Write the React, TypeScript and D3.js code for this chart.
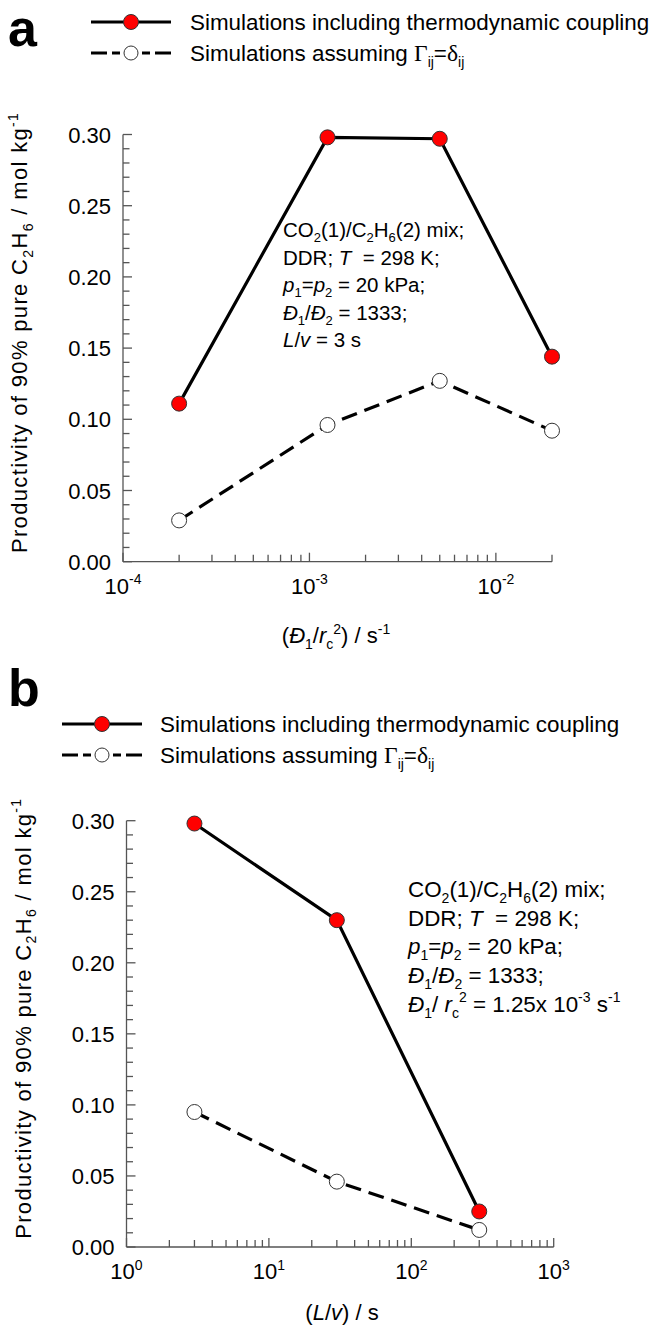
import React from "react";
import * as d3 from "d3";

// panel a: productivity vs D1/rc^2
const diffRatesA = [2e-4, 1.25e-3, 5e-3, 2e-2];
const coupledA = [0.111, 0.298, 0.297, 0.144];
const idealA = [0.029, 0.096, 0.127, 0.092];

// panel b: productivity vs L/v
const residenceB = [3, 30, 300];
const coupledB = [0.298, 0.23, 0.025];
const idealB = [0.095, 0.046, 0.012];

const yTicks = [0, 0.05, 0.1, 0.15, 0.2, 0.25, 0.3];
const xMajorA = [-4, -3, -2];
const xMajorB = [0, 1, 2, 3];

const FONT = "Arial, 'Liberation Sans', sans-serif";
const SERIF = "'Times New Roman', 'Liberation Serif', serif";
const AXIS = "#555";

// rich text: segments of [text, kind]; kind = "" | "i" | "sub" | "sup" | "g" (greek serif)
type Seg = [string, string?];
const Rich = ({ segs, size }: { segs: Seg[]; size: number }) => {
  let shift = 0;
  const small = Math.round(size * 0.63);
  return (
    <>
      {segs.map(([t, k = ""], i) => {
        const target = k.includes("sub") ? size * 0.26 : k.includes("sup") ? -size * 0.42 : 0;
        const dy = target - shift;
        shift = target;
        return (
          <tspan
            key={i}
            dy={dy || undefined}
            fontSize={k.includes("sub") || k.includes("sup") ? small : k === "g" ? size * 1.05 : undefined}
            fontStyle={k.startsWith("i") ? "italic" : undefined}
            fontFamily={k === "g" ? SERIF : undefined}
          >
            {t}
          </tspan>
        );
      })}
    </>
  );
};

const Legend = ({ x, y, labelX }) => (
  <g fontFamily={FONT} fontSize={22.4}>
    <line x1={x} x2={x + 80} y1={y} y2={y} stroke="#000" strokeWidth={3} />
    <circle cx={x + 40} cy={y} r={7.5} fill="#ff0000" stroke="#333" strokeWidth={1} />
    <text x={labelX} y={y + 8}>Simulations including thermodynamic coupling</text>
    {[
      [0, 16],
      [21, 29],
      [51, 59],
      [64, 80],
    ].map(([a, b], i) => (
      <line key={i} x1={x + a} x2={x + b} y1={y + 31} y2={y + 31} stroke="#000" strokeWidth={3} />
    ))}
    <circle cx={x + 40} cy={y + 31} r={7} fill="#fff" stroke="#333" strokeWidth={1} />
    <text x={labelX} y={y + 39}>
      <Rich
        size={22.4}
        segs={[["Simulations assuming "], ["Γ", "g"], ["ij", "sub"], ["="], ["δ", "g"], ["ij", "sub"]]}
      />
    </text>
  </g>
);

const Panel = ({ xs, coupled, ideal, domain, majors, left, top, bottom, right, xTitle, note, noteX, noteY, noteSize, noteGap }) => {
  const x = d3.scaleLog().domain(domain).range([left, right]);
  const y = d3.scaleLinear().domain([0, 0.3]).range([bottom, top]);
  const line = d3
    .line<number>()
    .x((d, i) => x(xs[i]))
    .y((d) => y(d));

  const minors = [];
  for (let e = majors[0]; e < majors[majors.length - 1] + 1; e++) {
    for (let m = 2; m <= 9; m++) {
      const v = m * Math.pow(10, e);
      if (v <= domain[1] * 1.0001 && v >= domain[0]) minors.push(v);
    }
  }
  const yMinor = d3.range(0, 31).map((d) => d / 100).filter((d) => Math.round(d * 100) % 5 !== 0);

  return (
    <g fontFamily={FONT}>
      {/* axes */}
      <line x1={left} x2={left} y1={top} y2={bottom} stroke={AXIS} strokeWidth={1.3} />
      <line x1={left} x2={right} y1={bottom} y2={bottom} stroke={AXIS} strokeWidth={1.3} />
      {yTicks.map((t) => (
        <g key={t}>
          <line x1={left} x2={left + 9} y1={y(t)} y2={y(t)} stroke={AXIS} strokeWidth={1.3} />
          <text x={left - 12} y={y(t) + 8} textAnchor="end" fontSize={22}>
            {t.toFixed(2)}
          </text>
        </g>
      ))}
      {yMinor.map((t) => (
        <line key={t} x1={left} x2={left + 6.5} y1={y(t)} y2={y(t)} stroke={AXIS} strokeWidth={1.3} />
      ))}
      {majors.map((e) => {
        const v = Math.pow(10, e);
        if (v > domain[1] * 1.0001) return null;
        return (
          <g key={e}>
            <line x1={x(v)} x2={x(v)} y1={bottom} y2={bottom - 9} stroke={AXIS} strokeWidth={1.3} />
            <text x={x(v)} y={bottom + 32} textAnchor="middle" fontSize={22}>
              <Rich size={22} segs={[["10"], [String(e), "sup"]]} />
            </text>
          </g>
        );
      })}
      {minors.map((v) => (
        <line key={v} x1={x(v)} x2={x(v)} y1={bottom} y2={bottom - 7} stroke={AXIS} strokeWidth={1.3} />
      ))}
      <text
        transform={`translate(${left - 96},${(top + bottom) / 2 - 15}) rotate(-90)`}
        textAnchor="middle"
        fontSize={22}
        textLength={440}
        lengthAdjust="spacing"
      >
        <Rich
          size={22}
          segs={[
            ["Productivity of 90% pure C"],
            ["2", "sub"],
            ["H"],
            ["6", "sub"],
            [" / mol kg"],
            ["-1", "sup"],
          ]}
        />
      </text>
      {xTitle}

      {/* series */}
      <path d={line(ideal)} fill="none" stroke="#000" strokeWidth={3.2} strokeDasharray="16 8" />
      <path d={line(coupled)} fill="none" stroke="#000" strokeWidth={3.2} />
      {ideal.map((d, i) => (
        <circle key={"i" + i} cx={x(xs[i])} cy={y(d)} r={7.5} fill="#fff" stroke="#333" strokeWidth={1} />
      ))}
      {coupled.map((d, i) => (
        <circle key={"c" + i} cx={x(xs[i])} cy={y(d)} r={7.5} fill="#ff0000" stroke="#333" strokeWidth={1} />
      ))}

      {/* annotation */}
      <g fontSize={noteSize}>
        {note.map((n, i) => (
          <text key={i} x={noteX} y={noteY + i * noteGap}>
            <Rich size={noteSize} segs={n} />
          </text>
        ))}
      </g>
    </g>
  );
};

const commonNote: Seg[][] = [
  [["CO"], ["2", "sub"], ["(1)/C"], ["2", "sub"], ["H"], ["6", "sub"], ["(2) mix;"]],
  [["DDR; "], ["T", "i"], ["\u00a0\u00a0= 298 K;"]],
  [["p", "i"], ["1", "sub"], ["="], ["p", "i"], ["2", "sub"], [" = 20 kPa;"]],
  [["Đ", "i"], ["1", "sub"], ["/"], ["Đ", "i"], ["2", "sub"], [" = 1333;"]],
];

const noteA: Seg[][] = [...commonNote, [["L", "i"], ["/"], ["v", "i"], [" = 3 s"]]];
const noteB: Seg[][] = [
  ...commonNote,
  [
    ["Đ", "i"],
    ["1", "sub"],
    ["/ "],
    ["r", "i"],
    ["c", "sub"],
    ["2", "sup"],
    [" = 1.25x 10"],
    ["-3", "sup"],
    [" s"],
    ["-1", "sup"],
  ],
];

export default function App() {
  return (
    <svg
      width={653}
      height={1330}
      style={{ position: "absolute", left: 0, top: 0, background: "#fff" }}
    >
      <text x={8} y={46} fontFamily={FONT} fontWeight="bold" fontSize={52}>
        a
      </text>
      <Legend x={91} y={22} labelX={190} />
      <Panel
        xs={diffRatesA}
        coupled={coupledA}
        ideal={idealA}
        domain={[1e-4, 2e-2]}
        majors={xMajorA}
        left={123}
        right={552}
        top={134.5}
        bottom={561.7}
        note={noteA}
        noteX={283}
        noteY={237}
        noteSize={20.5}
        noteGap={27.5}
        xTitle={
          <text x={336} y={643} textAnchor="middle" fontSize={22}>
            <Rich
              size={22}
              segs={[["("], ["Đ", "i"], ["1", "sub"], ["/"], ["r", "i"], ["c", "sub"], ["2", "sup"], [") / s"], ["-1", "sup"]]}
            />
          </text>
        }
      />
      <text x={8} y={706} fontFamily={FONT} fontWeight="bold" fontSize={52}>
        b
      </text>
      <Legend x={62} y={724} labelX={160} />
      <Panel
        xs={residenceB}
        coupled={coupledB}
        ideal={idealB}
        domain={[1, 1000]}
        majors={xMajorB}
        left={126.5}
        right={553.7}
        top={820.7}
        bottom={1247}
        note={noteB}
        noteX={408}
        noteY={897}
        noteSize={22.4}
        noteGap={28.7}
        xTitle={
          <text x={342} y={1320} textAnchor="middle" fontSize={22}>
            <Rich size={22} segs={[["("], ["L", "i"], ["/"], ["v", "i"], [") / s"]]} />
          </text>
        }
      />
    </svg>
  );
}
